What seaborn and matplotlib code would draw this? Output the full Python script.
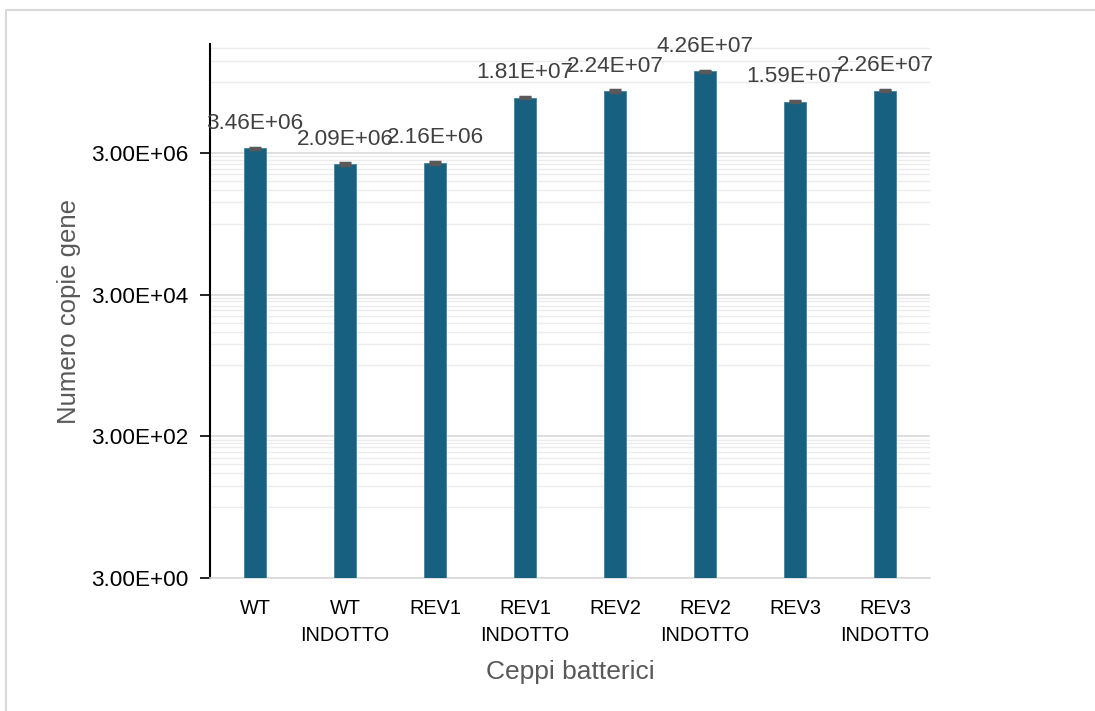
import matplotlib
matplotlib.use("Agg")
import matplotlib.pyplot as plt
import seaborn as sns
import pandas as pd
import numpy as np
from matplotlib.lines import Line2D
from matplotlib.ticker import FixedLocator, NullFormatter

categories = ["WT", "WT\nINDOTTO", "REV1", "REV1\nINDOTTO", "REV2", "REV2\nINDOTTO", "REV3", "REV3\nINDOTTO"]
values = [3.46e6, 2.09e6, 2.16e6, 1.81e7, 2.24e7, 4.26e7, 1.59e7, 2.26e7]
errors = [6e4, 4e4, 4e4, 3e5, 4e5, 7e5, 3e5, 4e5]
major_ticks = [3.0, 3.0e2, 3.0e4, 3.0e6]
tick_labels = ["3.00E+00", "3.00E+02", "3.00E+04", "3.00E+06"]

sns.set_theme(style="white")
plt.rcParams['font.family'] = ['Liberation Sans', 'DejaVu Sans']

df = pd.DataFrame({"ceppo": categories, "copie": values})

W, H = 1095, 711
fig = plt.figure(figsize=(W / 100, H / 100), dpi=100)
ax = fig.add_axes([210 / W, 1 - 578 / H, 720 / W, (578 - 44) / H])

bar_color = "#17607f"
ax.set_yscale("log")
sns.barplot(data=df, x="ceppo", y="copie", color=bar_color, width=0.25,
            saturation=1, ax=ax, errorbar=None, zorder=3)
for p in ax.patches:
    p.set_edgecolor("#3c86a3")
    p.set_linewidth(0.6)

xs = np.arange(len(categories))
ax.errorbar(xs, values, yerr=errors, fmt="none", ecolor="#595959",
            elinewidth=1.2, capsize=4.3, capthick=2.5, zorder=4)

for x, v in zip(xs, values):
    ax.annotate(f"{v:.2E}", (x, v), xytext=(0, 14), textcoords="offset points",
                ha="center", va="baseline", fontsize=16.2, color="#404040", zorder=5)

ax.set_ylim(3.0, 1.03e8)
ax.set_xlim(-0.5, len(categories) - 0.5)

ax.yaxis.set_major_locator(FixedLocator(major_ticks))
ax.set_yticklabels(tick_labels)
minor = []
for k in range(4):
    for j in range(1, 10):
        m = 3.0 * 10 ** (2 * k + 1) * j
        if m < 1.03e8:
            minor.append(m)
ax.yaxis.set_minor_locator(FixedLocator(minor))
ax.yaxis.set_minor_formatter(NullFormatter())

ax.grid(True, which="major", axis="y", color="#d6d6d6", linewidth=1.1, zorder=0)
ax.grid(True, which="minor", axis="y", color="#ececec", linewidth=1.0, zorder=0)
ax.set_axisbelow(True)

ax.tick_params(axis="y", which="major", left=True, length=7, width=1.2, color="black",
               labelsize=16.2, labelcolor="black", pad=8.5)
ax.tick_params(axis="y", which="minor", left=False, length=0)
ax.tick_params(axis="x", bottom=False, length=0, labelsize=14.3, labelcolor="black", pad=15)
for lab in ax.get_xticklabels():
    lab.set_multialignment("center")
    lab.set_linespacing(1.55)

for s in ["top", "right"]:
    ax.spines[s].set_visible(False)
ax.spines["left"].set_color("black")
ax.spines["left"].set_linewidth(1.5)
ax.spines["bottom"].set_color("#d9d9d9")
ax.spines["bottom"].set_linewidth(1.2)

ax.set_xlabel("Ceppi batterici", fontsize=19, color="#595959", labelpad=11)
ax.set_ylabel("Numero copie gene", fontsize=18.5, color="#595959", labelpad=7)

# chart area border (top and left edges visible)
fig.add_artist(Line2D([6 / W, 1.0], [1 - 10 / H, 1 - 10 / H], transform=fig.transFigure,
                      color="#d9d9d9", linewidth=1.5))
fig.add_artist(Line2D([6 / W, 6 / W], [0.0, 1 - 10 / H], transform=fig.transFigure,
                      color="#d9d9d9", linewidth=1.5))

fig.savefig("out.png", dpi=100, facecolor="white")
